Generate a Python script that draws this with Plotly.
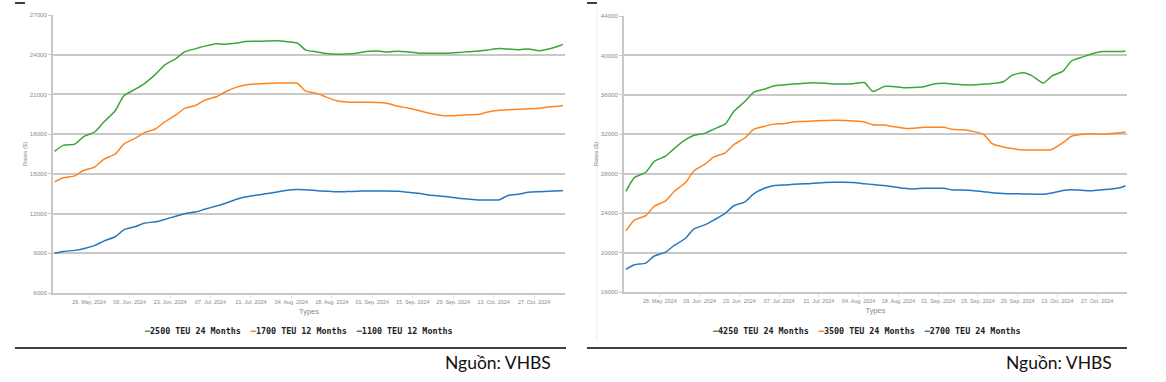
import plotly.graph_objects as go

# ---------------- data ----------------
dates = ["2024-05-14","2024-05-17","2024-05-21","2024-05-24","2024-05-28","2024-05-31",
         "2024-06-04","2024-06-07","2024-06-11","2024-06-14","2024-06-18","2024-06-21","2024-06-25","2024-06-28",
         "2024-07-02","2024-07-05","2024-07-09","2024-07-12","2024-07-16","2024-07-19","2024-07-23","2024-07-26","2024-07-30",
         "2024-08-02","2024-08-06","2024-08-09","2024-08-13","2024-08-16","2024-08-20","2024-08-23","2024-08-27","2024-08-30",
         "2024-09-03","2024-09-06","2024-09-10","2024-09-13","2024-09-17","2024-09-20","2024-09-24","2024-09-27",
         "2024-10-01","2024-10-04","2024-10-08","2024-10-11","2024-10-15","2024-10-18","2024-10-22","2024-10-25","2024-10-29",
         "2024-11-01","2024-11-05","2024-11-06"]

tick_dates = ["2024-05-26","2024-06-09","2024-06-23","2024-07-07","2024-07-21","2024-08-04",
              "2024-08-18","2024-09-01","2024-09-15","2024-09-29","2024-10-13","2024-10-27"]

left_names = ["2500 TEU 24 Months", "1700 TEU 12 Months", "1100 TEU 12 Months"]
right_names = ["4250 TEU 24 Months", "3500 TEU 24 Months", "2700 TEU 24 Months"]

teu2500_24m = [16700, 17150, 17250, 17800, 18180, 18900,
               19770, 20900, 21400, 21800, 22530, 23200, 23700, 24220,
               24460, 24650, 24830, 24790, 24880, 25000, 25010, 25030, 25050,
               25000, 24880, 24350, 24210, 24090, 24040, 24050, 24130, 24250,
               24280, 24200, 24270, 24220, 24120, 24110, 24110, 24110,
               24170, 24220, 24280, 24360, 24460, 24430, 24380, 24430, 24300,
               24430, 24700, 24780]
teu1700_12m = [14400, 14700, 14850, 15250, 15530, 16100,
               16500, 17250, 17700, 18100, 18400, 18900, 19450, 19950,
               20180, 20570, 20820, 21180, 21550, 21720, 21790, 21830, 21860,
               21860, 21840, 21250, 21060, 20800, 20500, 20420, 20400, 20400,
               20390, 20330, 20100, 19990, 19780, 19610, 19450, 19380,
               19420, 19460, 19500, 19680, 19800, 19840, 19880, 19910, 19960,
               20050, 20130, 20170]
teu1100_12m = [9000, 9140, 9220, 9350, 9600, 9920,
               10250, 10770, 11020, 11270, 11380, 11550, 11800, 11990,
               12130, 12330, 12570, 12760, 13080, 13250, 13400, 13490, 13630,
               13750, 13820, 13800, 13730, 13690, 13640, 13660, 13690, 13700,
               13700, 13700, 13680, 13620, 13530, 13420, 13330, 13270,
               13160, 13100, 13030, 13020, 13050, 13370, 13480, 13610, 13650,
               13680, 13730, 13750]

teu4250_24m = [26200, 27600, 28150, 29250, 29780, 30550,
               31450, 31900, 32120, 32530, 33050, 34300, 35350, 36250,
               36600, 36900, 37020, 37100, 37170, 37230, 37170, 37100, 37100,
               37130, 37250, 36350, 36850, 36850, 36720, 36750, 36830, 37080,
               37170, 37100, 37020, 37000, 37080, 37150, 37330, 37980,
               38250, 37950, 37200, 37900, 38400, 39450, 39850, 40150, 40400,
               40400, 40400, 40450]
teu3500_24m = [22200, 23300, 23750, 24700, 25250, 26200,
               27100, 28300, 29000, 29700, 30120, 30950, 31650, 32500,
               32820, 33030, 33100, 33250, 33300, 33350, 33390, 33420, 33400,
               33350, 33250, 32960, 32940, 32780, 32620, 32600, 32710, 32710,
               32710, 32500, 32450, 32300, 32000, 31050, 30710, 30550,
               30400, 30400, 30400, 30450, 31150, 31800, 32000, 32050, 32000,
               32080, 32180, 32230]
teu2700_24m = [18300, 18760, 18930, 19650, 20050, 20720,
               21450, 22400, 22830, 23300, 23970, 24750, 25150, 25950,
               26550, 26780, 26860, 26920, 26970, 27020, 27110, 27130, 27130,
               27110, 26990, 26900, 26810, 26680, 26520, 26460, 26520, 26520,
               26520, 26350, 26350, 26300, 26180, 26070, 26000, 25970,
               25950, 25940, 25910, 26050, 26300, 26380, 26310, 26280, 26380,
               26450, 26650, 26780]

left_y_ticks = [6000, 9000, 12000, 15000, 18000, 21000, 24000, 27000]
right_y_ticks = [16000, 20000, 24000, 28000, 32000, 36000, 40000, 44000]

# ---------------- style ----------------
W, H = 1166, 382
colors = ["#3aa63a", "#ff8420", "#2677bd"]
grid = "#c8c8c8"
narrow = "Liberation Sans Narrow, Liberation Sans, Arial"
xtickfont = dict(family=narrow, size=5.4, color="#8a8a8a")
ytickfont = dict(family=narrow, size=6.2, color="#8a8a8a")
titlefont = dict(family=narrow, size=7.5, color="#8a8a8a")
legfont = dict(family="DejaVu Sans Mono", size=8.4, color="#222222")

def px(x):
    return x / W

def py(y):
    return 1 - y / H

fig = go.Figure()

for vals, name, c in zip([teu2500_24m, teu1700_12m, teu1100_12m], left_names, colors):
    fig.add_trace(go.Scatter(x=dates, y=vals, name=name, mode="lines",
                             line=dict(color=c, width=1.5, shape="spline", smoothing=0.6),
                             xaxis="x", yaxis="y", showlegend=False))
for vals, name, c in zip([teu4250_24m, teu3500_24m, teu2700_24m], right_names, colors):
    fig.add_trace(go.Scatter(x=dates, y=vals, name=name, mode="lines",
                             line=dict(color=c, width=1.5, shape="spline", smoothing=0.6),
                             xaxis="x2", yaxis="y2", showlegend=False))

def xaxis_cfg(dom, anchor, rng):
    return dict(domain=dom, anchor=anchor, type="date", range=rng,
                tickvals=tick_dates, tickformat="%d. %b. %Y", tickfont=xtickfont,
                tickangle=0, automargin=False,
                showgrid=False, showline=True, linecolor=grid, linewidth=1.5,
                ticks="outside", ticklen=3, tickcolor="#e0e0e0",
                title=dict(text="Types", font=titlefont, standoff=5),
                zeroline=False)

def yaxis_cfg(dom, anchor, rng, tv):
    return dict(domain=dom, anchor=anchor, range=rng, tickvals=tv,
                tickformat="d", tickfont=ytickfont, automargin=False,
                showgrid=True, gridcolor=grid, gridwidth=1.5,
                showline=True, linecolor=grid, linewidth=1.5,
                ticks="outside", ticklen=3, tickcolor=grid,
                title=dict(text="Rates ($)", font=dict(family=narrow, size=6, color="#8a8a8a"), standoff=2),
                zeroline=False)

fig.update_layout(
    width=W, height=H,
    margin=dict(l=0, r=0, t=0, b=0, autoexpand=False),
    paper_bgcolor="white", plot_bgcolor="white",
    showlegend=False,
    xaxis=xaxis_cfg([px(53), px(565)], "y", ["2024-05-13 11:00", "2024-11-06 17:00"]),
    yaxis=yaxis_cfg([py(293), py(15)], "x", [6000, 27000], left_y_ticks),
    xaxis2=xaxis_cfg([px(624), px(1127)], "y2", ["2024-05-13 08:00", "2024-11-06 13:00"]),
    yaxis2=yaxis_cfg([py(292), py(16)], "x2", [16000, 44000], right_y_ticks),
)

# legends (one per panel, centred under each chart)
def legend_text(names):
    parts = []
    for n, c in zip(names, colors):
        parts.append(f'<span style="color:{c}"><b>━</b></span><b>{n}</b>')
    return "  ".join(parts)

fig.add_annotation(x=px(299), y=py(331), xref="paper", yref="paper", text=legend_text(left_names),
                   showarrow=False, font=legfont, xanchor="center", yanchor="middle")
fig.add_annotation(x=px(866), y=py(331), xref="paper", yref="paper", text=legend_text(right_names),
                   showarrow=False, font=legfont, xanchor="center", yanchor="middle")

# source notes
src_font = dict(family="Lato, Open Sans, sans-serif", size=17.5, color="#111111")
fig.add_annotation(x=px(553), y=py(362), xref="paper", yref="paper", text="Nguồn: VHBS",
                   showarrow=False, font=src_font, xanchor="right", yanchor="middle")
fig.add_annotation(x=px(1114), y=py(362), xref="paper", yref="paper", text="Nguồn: VHBS",
                   showarrow=False, font=src_font, xanchor="right", yanchor="middle")

# separator rules and small marks
shapes = [
    dict(type="line", xref="paper", yref="paper", x0=px(15), x1=px(566), y0=py(348), y1=py(348),
         line=dict(color="#000000", width=1.3)),
    dict(type="line", xref="paper", yref="paper", x0=px(587), x1=px(1127), y0=py(348), y1=py(348),
         line=dict(color="#000000", width=1.3)),
    dict(type="line", xref="paper", yref="paper", x0=px(15), x1=px(25), y0=py(3), y1=py(3),
         line=dict(color="#000000", width=1.5)),
    dict(type="line", xref="paper", yref="paper", x0=px(587), x1=px(597), y0=py(3), y1=py(3),
         line=dict(color="#000000", width=1.5)),
    dict(type="line", xref="paper", yref="paper", x0=px(597), x1=px(597), y0=py(10), y1=py(340),
         line=dict(color="#ececec", width=1)),
]
fig.update_layout(shapes=shapes)

fig.write_html("out.html", config={"displayModeBar": False},
               post_script="document.body.style.margin='0';document.body.style.overflow='hidden';")
